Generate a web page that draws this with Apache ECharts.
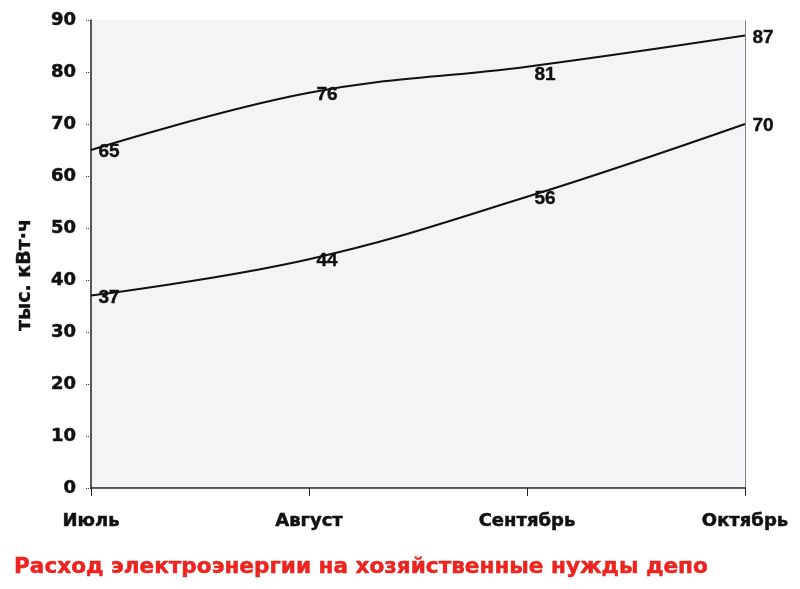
<!DOCTYPE html>
<html><head><meta charset="utf-8">
<script src="https://cdn.jsdelivr.net/npm/echarts@6/dist/echarts.min.js"></script>
<style>html,body{margin:0;padding:0;background:#fff}#c{width:800px;height:589px}</style>
</head><body><div id="c"></div>
<script>
const months = ['Июль', 'Август', 'Сентябрь', 'Октябрь'];
const upperSeries = [65, 76, 81, 87];
const lowerSeries = [37, 44, 56, 70];
const yTicks = [0, 10, 20, 30, 40, 50, 60, 70, 80, 90];
const titleText = 'Расход электроэнергии на хозяйственные нужды депо';
const yName = 'тыс. кВт·ч';

const wide = '"DejaVu Sans", Verdana, sans-serif';
const narrow = '"Liberation Sans", Arial, sans-serif';
const chart = echarts.init(document.getElementById('c'), null, {renderer: 'canvas'});
const lbl = {show: true, position: 'right', distance: 7, offset: [0, 2], color: '#111', fontFamily: narrow, fontWeight: 'bold', fontSize: 19,
  textBorderColor: '#111', textBorderWidth: 0.4};
function items(arr, special) {
  return arr.map((v, i) => special && special[i] ? {value: v, label: special[i]} : v);
}
const heavy = {textBorderColor: '#111', textBorderWidth: 0.5};
chart.setOption({
  backgroundColor: '#fff',
  animation: false,
  title: {text: titleText, left: 9, top: 551, textStyle: {color: '#ec2420', fontFamily: wide, fontWeight: 'bold', fontSize: 21.6, textBorderColor: '#ec2420', textBorderWidth: 0.5}},
  graphic: [{
    type: 'text', x: 25, y: 275, rotation: Math.PI / 2,
    style: {text: yName, fill: '#111', font: 'bold 19px ' + wide, align: 'center', verticalAlign: 'middle', stroke: '#111', lineWidth: 0.4}
  }],
  grid: {left: 91, right: 55, top: 20, bottom: 101, show: true, backgroundColor: '#f4f3f5', borderWidth: 0},
  xAxis: [{
    type: 'category', data: months, boundaryGap: false,
    axisLine: {lineStyle: {color: '#222', width: 1.5}},
    axisTick: {show: true, length: 8, lineStyle: {color: '#222'}},
    axisLabel: Object.assign({color: '#111', fontFamily: wide, fontWeight: 'bold', fontSize: 18, margin: 24}, heavy),
    splitLine: {show: false}
  }, {
    type: 'category', data: months, boundaryGap: false, position: 'top',
    axisLine: {lineStyle: {color: '#666', type: 'dotted'}},
    axisTick: {show: false}, axisLabel: {show: false}
  }],
  yAxis: [{
    type: 'value', min: 0, max: 90, interval: 10,
    axisLine: {show: true, lineStyle: {color: '#222', width: 1.5}},
    axisTick: {show: true, length: 5, lineStyle: {color: '#333', type: 'dotted'}},
    axisLabel: Object.assign({color: '#111', fontFamily: wide, fontWeight: 'bold', fontSize: 18, margin: 15,
      formatter: v => yTicks.includes(v) ? String(v) : ''}, heavy),
    splitLine: {show: false}
  }, {
    type: 'value', min: 0, max: 90, interval: 10, position: 'right',
    axisLine: {show: true, lineStyle: {color: '#666', type: 'dotted'}},
    axisTick: {show: false}, axisLabel: {show: false}, splitLine: {show: false}
  }],
  series: [{
    type: 'line', data: items(upperSeries, {2: {offset: [0, 8]}}), smooth: 0.4,
    symbol: 'circle', symbolSize: 1, showSymbol: true, itemStyle: {color: 'transparent', borderWidth: 0},
    lineStyle: {color: '#111', width: 2}, label: lbl, z: 5
  }, {
    type: 'line', data: lowerSeries, smooth: 0.4,
    symbol: 'circle', symbolSize: 1, showSymbol: true, itemStyle: {color: 'transparent', borderWidth: 0},
    lineStyle: {color: '#111', width: 2}, label: lbl, z: 5
  }]
});
</script></body></html>
